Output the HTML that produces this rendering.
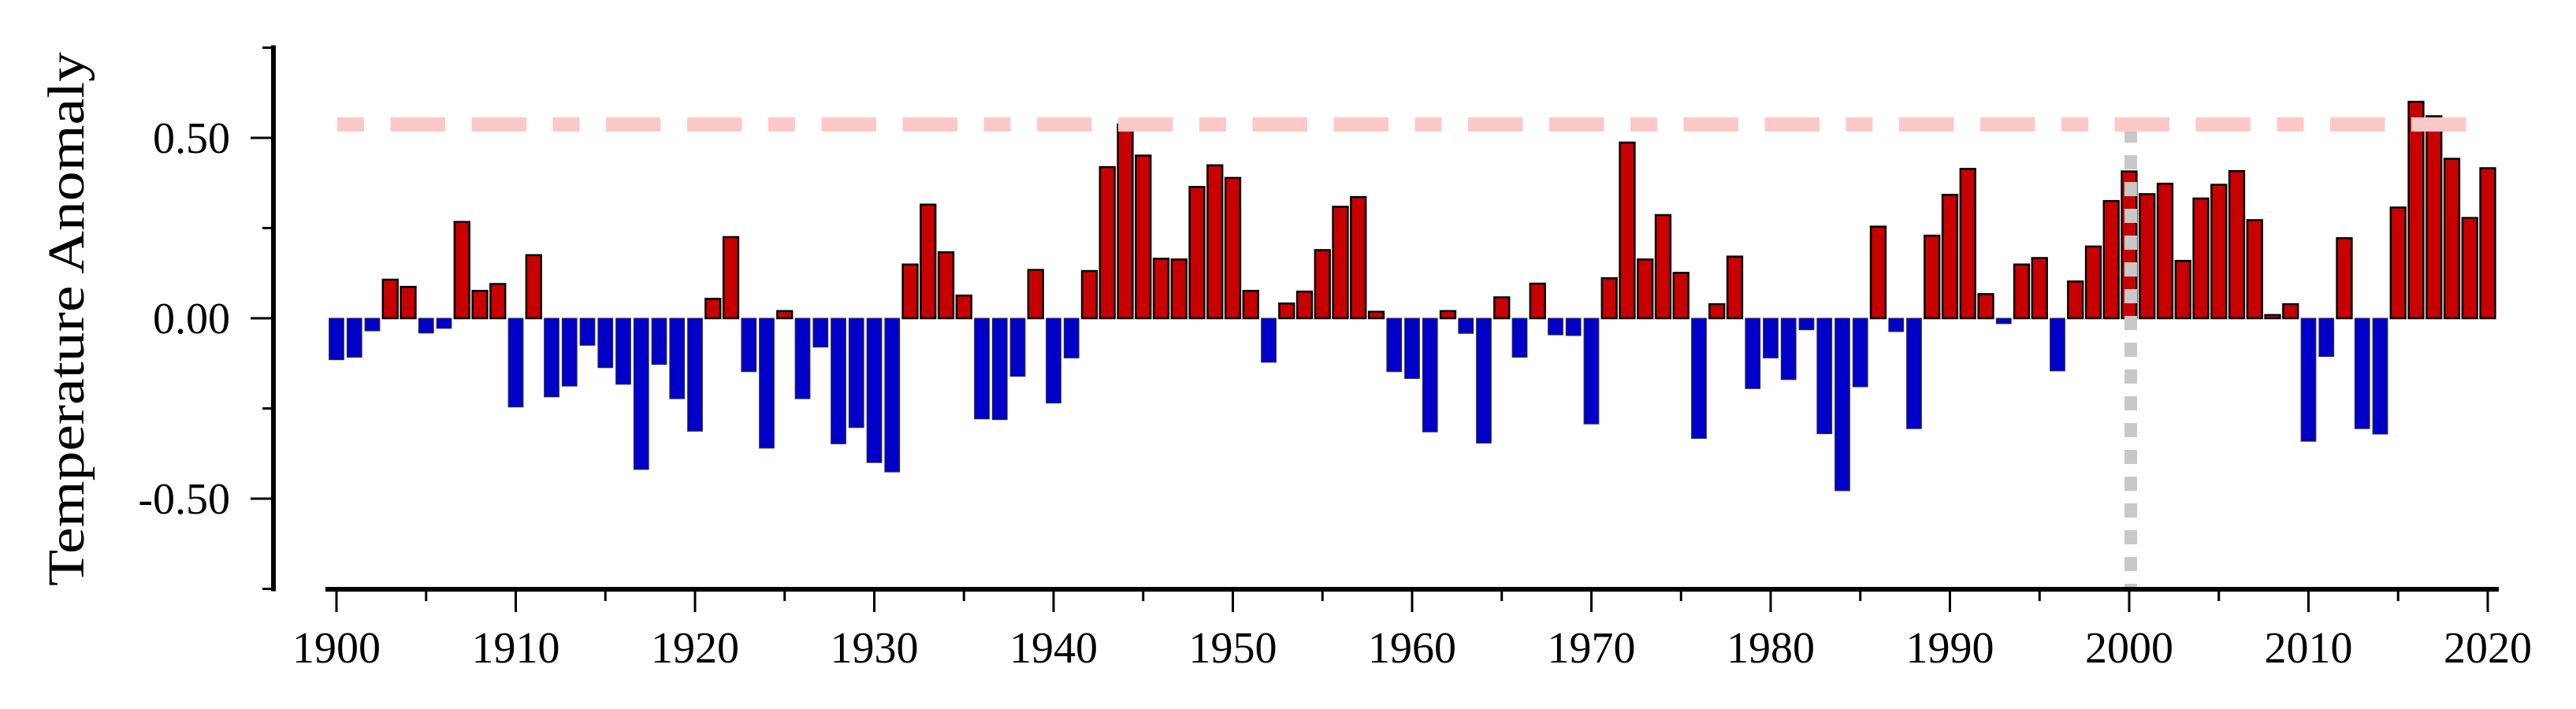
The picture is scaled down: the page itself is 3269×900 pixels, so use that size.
<!DOCTYPE html>
<html><head><meta charset="utf-8"><style>html,body{margin:0;padding:0;background:#fff}svg{display:block}</style></head>
<body>
<svg id="chart" xmlns="http://www.w3.org/2000/svg" width="3269" height="900" viewBox="0 0 3269 900" font-family="'Liberation Serif', serif">
<rect width="3269" height="900" fill="#fff"/>
<g id="bars"></g>
<line x1="2704" y1="163" x2="2704" y2="748" stroke="#c8c8c8" stroke-width="16" stroke-dasharray="18,16"/>
<line id="thr" x1="428" x2="3145" stroke="#ffc8c8" stroke-width="18" stroke-dasharray="34,33.5,69.5,33.5 69.5,33.5"/>
<g id="axes"></g>
<text transform="translate(106,405) rotate(-90)" text-anchor="middle" font-size="66" textLength="678" lengthAdjust="spacingAndGlyphs">Temperature Anomaly</text>
</svg>
<script>
const years = [];
for (let y = 1900; y <= 2020; y++) years.push(y);
const anomalies = [
-0.115,-0.108,-0.035,0.107,0.087,-0.041,-0.028,0.267,0.076,0.095,
-0.246,0.175,-0.218,-0.188,-0.075,-0.137,-0.183,-0.419,-0.128,-0.223,
-0.313,0.054,0.225,-0.148,-0.360,0.020,-0.223,-0.080,-0.348,-0.303,
-0.400,-0.426,0.149,0.315,0.183,0.063,-0.279,-0.281,-0.161,0.134,
-0.235,-0.110,0.131,0.419,0.537,0.451,0.165,0.163,0.364,0.424,
0.389,0.076,-0.122,0.041,0.074,0.189,0.309,0.336,0.018,-0.148,
-0.167,-0.315,0.020,-0.042,-0.346,0.058,-0.108,0.096,-0.046,-0.048,
-0.293,0.111,0.487,0.163,0.286,0.126,-0.333,0.039,0.171,-0.195,
-0.110,-0.170,-0.032,-0.320,-0.478,-0.190,0.254,-0.037,-0.306,0.229,
0.342,0.414,0.067,-0.015,0.149,0.167,-0.146,0.102,0.199,0.325,
0.407,0.344,0.373,0.159,0.332,0.370,0.408,0.272,0.009,0.039,
-0.341,-0.106,0.222,-0.306,-0.321,0.307,0.600,0.560,0.442,0.278,0.416];
const threshold = [0.537];
const yTicks = [-0.5, 0, 0.5];
const yTickLabels = ["-0.50", "0.00", "0.50"];
const yMinorTicks = [-0.75, -0.25, 0.25, 0.75];
const xTicks = [1900,1910,1920,1930,1940,1950,1960,1970,1980,1990,2000,2010,2020];

const NS = "http://www.w3.org/2000/svg";
const X = yr => 427 + (yr - 1900) * 22.75;
const Y = v => 404 - v * 458;
function mk(tag, attrs, parent) {
  const e = document.createElementNS(NS, tag);
  for (const k in attrs) e.setAttribute(k, attrs[k]);
  parent.appendChild(e);
  return e;
}
const bars = document.getElementById('bars');
years.forEach((yr, i) => {
  const v = anomalies[i];
  const pos = v >= 0;
  const r = mk('rect', {x: X(yr) - 9.4, y: Math.min(Y(v), Y(0)), width: 18.8, height: Math.max(Math.abs(Y(v) - Y(0)), 1),
    fill: pos ? '#c80000' : '#0000c8', stroke: pos ? '#000' : '#333', 'stroke-width': pos ? 2.5 : 1}, bars);
  
  
});
const thr = document.getElementById('thr');
thr.setAttribute('y1', Y(threshold[0]));
thr.setAttribute('y2', Y(threshold[0]));

const axes = document.getElementById('axes');
const ya = mk('line', {x1: 347, y1: Y(0.75) - 3, x2: 347, y2: Y(-0.75) + 3, stroke: '#000', 'stroke-width': 6}, axes);


const xa = mk('line', {x1: 413, y1: 748, x2: 3171, y2: 748, stroke: '#000', 'stroke-width': 6}, axes);


yTicks.forEach((v, i) => {
  const t = mk('line', {x1: 318, y1: Y(v), x2: 347, y2: Y(v), stroke: '#000', 'stroke-width': 3}, axes);
  
  
  const l = mk('text', {x: 292, y: Y(v) + 19, 'text-anchor': 'end', 'font-size': 56}, axes);
  l.textContent = yTickLabels[i];
  
  
});
yMinorTicks.forEach(v => {
  const t = mk('line', {x1: 333, y1: Y(v), x2: 347, y2: Y(v), stroke: '#000', 'stroke-width': 3}, axes);
  
  
});
xTicks.forEach(yr => {
  const t = mk('line', {x1: X(yr), y1: 748, x2: X(yr), y2: 777, stroke: '#000', 'stroke-width': 3}, axes);
  
  
  const l = mk('text', {x: X(yr), y: 841, 'text-anchor': 'middle', 'font-size': 56}, axes);
  l.textContent = String(yr);
  
  
  if (yr < 2020) {
    const m = mk('line', {x1: X(yr + 5), y1: 748, x2: X(yr + 5), y2: 763, stroke: '#000', 'stroke-width': 3}, axes);
    
    
  }
});
</script>
</body></html>
